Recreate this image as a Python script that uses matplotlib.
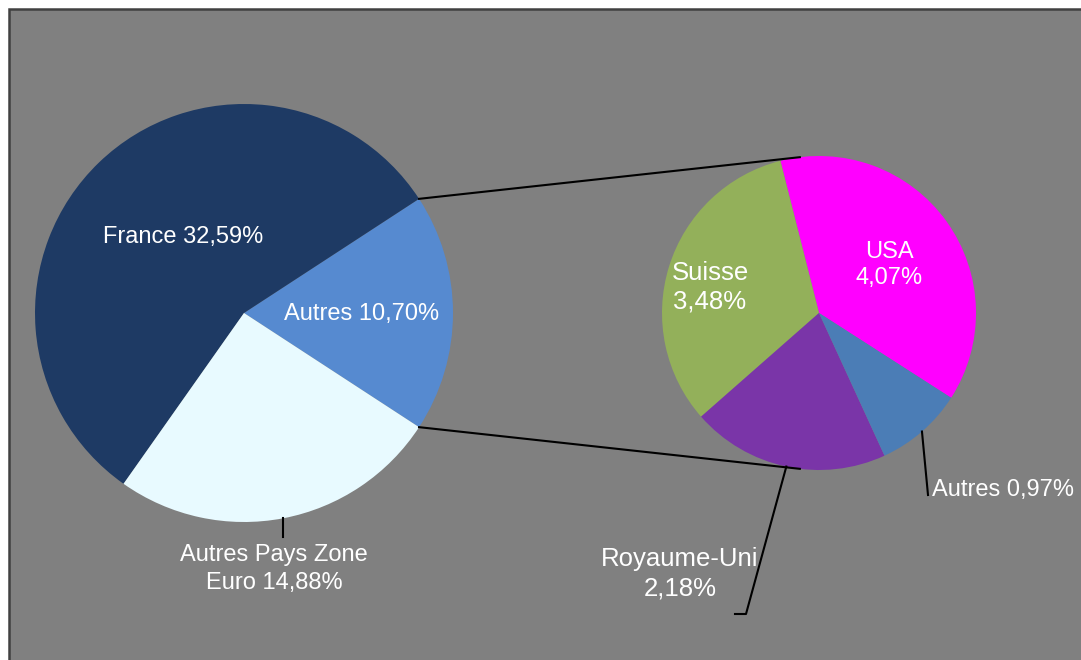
import numpy as np
import matplotlib
matplotlib.use("Agg")
import matplotlib.pyplot as plt
from matplotlib.patches import Rectangle

plt.rcParams['font.family'] = ['Liberation Sans', 'DejaVu Sans']

# ---- data ----
left_labels = ["Autres", "France", "Autres Pays Zone Euro"]
left_values = [10.70, 32.59, 14.88]
left_texts = ["Autres 10,70%", "France 32,59%", "Autres Pays Zone\nEuro 14,88%"]

right_labels = ["USA", "Suisse", "Royaume-Uni", "Autres"]
right_values = [4.07, 3.48, 2.18, 0.97]
right_texts = ["USA\n4,07%", "Suisse\n3,48%", "Royaume-Uni\n2,18%", "Autres 0,97%"]

left_colors = ["#568AD0", "#1E3A64", "#E8FAFF"]
right_colors = ["#FF00FF", "#93B05A", "#7A35A8", "#4B7DB6"]

W, H = 1081, 660
fig = plt.figure(figsize=(W / 100, H / 100), dpi=100)
fig.patch.set_facecolor("white")
ax = fig.add_axes([0, 0, 1, 1])

def Y(py):
    return H - py

# background frame
ax.add_patch(Rectangle((9, -20), W + 20, Y(9) + 20, facecolor="#808080",
                       edgecolor="#404040", linewidth=1.8, zorder=0))

# left pie
lc = (244, Y(313)); lr = 209
frac_auto = left_values[0] / sum(left_values) * 360
lw, _ = ax.pie(left_values, colors=left_colors, center=lc, radius=lr,
               startangle=-frac_auto / 2, counterclock=True,
               wedgeprops=dict(linewidth=0), frame=True)

# right pie
rc = (819, Y(313)); rr = 157
rw, _ = ax.pie(right_values, colors=right_colors, center=rc, radius=rr,
               startangle=-32.7, counterclock=True,
               wedgeprops=dict(linewidth=0), frame=True)
ax.set_xlim(0, W)
ax.set_ylim(0, H)
ax.set_aspect("equal")
ax.axis("off")

def pt(c, r, ang):
    a = np.deg2rad(ang)
    return c[0] + r * np.cos(a), c[1] + r * np.sin(a)

# connector lines
w0 = lw[0]
p1 = pt(lc, lr, w0.theta2); p2 = pt(lc, lr, w0.theta1)
q1 = pt(rc, rr, 97); q2 = pt(rc, rr, 263)
ax.plot([p1[0], q1[0]], [p1[1], q1[1]], color="black", lw=1.5, zorder=3)
ax.plot([p2[0], q2[0]], [p2[1], q2[1]], color="black", lw=1.5, zorder=3)

def mid(w):
    return (w.theta1 + w.theta2) / 2

# leader lines
s = pt(lc, lr, mid(lw[2]))
ax.plot([s[0], s[0]], [s[1], Y(537)], color="black", lw=1.5, zorder=3)
s = pt(rc, rr, mid(rw[2]))
ax.plot([s[0], 746, 735], [s[1], Y(614), Y(614)], color="black", lw=1.5, zorder=3)
s = pt(rc, rr, mid(rw[3]))
ax.plot([s[0], 928], [s[1], Y(495)], color="black", lw=1.5, zorder=3)

fs = 17
fs2 = 18.5
ax.text(183, Y(237), left_texts[1], color="white", fontsize=fs, ha="center", va="center")
ax.text(362, Y(314), left_texts[0], color="white", fontsize=fs, ha="center", va="center")
ax.text(274, Y(569), left_texts[2], color="white", fontsize=fs, ha="center", va="center",
        linespacing=1.34)
ax.text(710, Y(287), right_texts[1], color="white", fontsize=fs2, ha="center", va="center",
        linespacing=1.26)
ax.text(889, Y(265), right_texts[0], color="white", fontsize=fs, ha="center", va="center",
        linespacing=1.29)
ax.text(680, Y(574), right_texts[2], color="white", fontsize=fs2, ha="center", va="center",
        linespacing=1.29)
ax.text(932, Y(490), right_texts[3], color="white", fontsize=fs, ha="left", va="center")

fig.savefig("out.png", dpi=100, facecolor=fig.get_facecolor())
